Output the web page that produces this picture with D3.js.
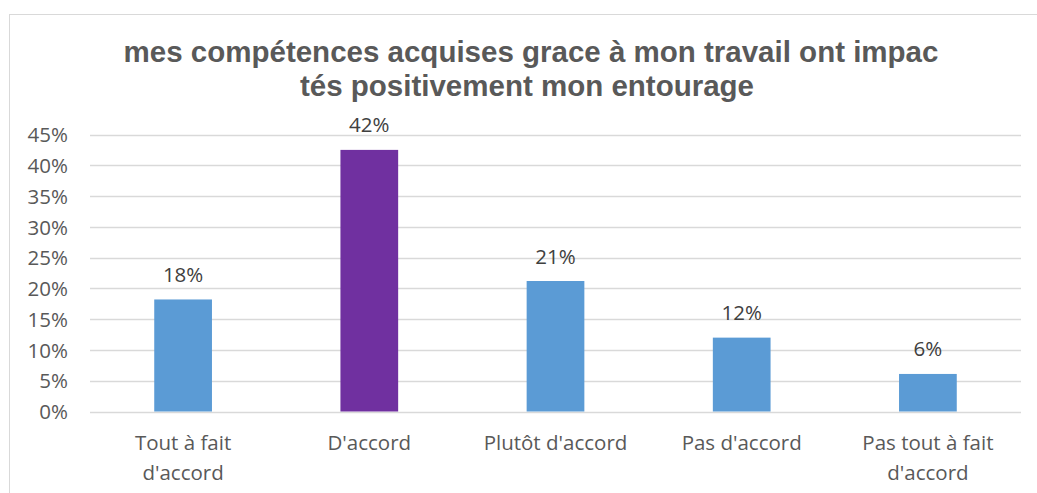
<!DOCTYPE html>
<html><head><meta charset="utf-8">
<script src="https://cdn.jsdelivr.net/npm/d3@7"></script>
<style>body{margin:0;background:#fff}svg{display:block}</style>
</head><body>
<svg id="c" width="1037" height="493"></svg>
<script>
const categories = [["Tout à fait","d'accord"],["D'accord"],["Plutôt d'accord"],["Pas d'accord"],["Pas tout à fait","d'accord"]];
const values = [0.182, 0.425, 0.212, 0.12, 0.061];
const labels = ["18%","42%","21%","12%","6%"];
const barColors = ["#5B9BD5","#7030A0","#5B9BD5","#5B9BD5","#5B9BD5"];
const yTicks = [0,0.05,0.1,0.15,0.2,0.25,0.3,0.35,0.4,0.45];
const titleLines = ["mes compétences acquises grace à mon travail ont impac","tés positivement mon entourage"];

const svg = d3.select("#c");
svg.append("rect").attr("x",9.5).attr("y",14.5).attr("width",1040).attr("height",500)
  .attr("fill","#fff").attr("stroke","#d9d9d9").attr("stroke-width",1);

const x = d3.scaleBand().domain(d3.range(categories.length)).range([90,1021]).paddingInner(0.69).paddingOuter(0.345);
const y = d3.scaleLinear().domain([0,0.45]).range([411.5,134.5]);
const font = "'Open Sans', sans-serif";

svg.append("g").selectAll("line").data(yTicks).join("line")
  .attr("x1",90).attr("x2",1021).attr("y1",d=>Math.round(y(d))+0.5).attr("y2",d=>Math.round(y(d))+0.5)
  .attr("stroke","#d9d9d9").attr("stroke-width",1.3);

svg.append("g")
  .call(d3.axisLeft(y).tickValues(yTicks).tickSize(0).tickFormat(d3.format(".0%")))
  .call(g=>g.select(".domain").remove())
  .call(g=>g.selectAll("text").attr("x",68).attr("dy","0.35em").attr("fill","#595959")
    .style("font-family",font).style("font-size","20.5px"));

svg.append("g").selectAll("rect").data(values).join("rect")
  .attr("x",(d,i)=>x(i)).attr("width",x.bandwidth())
  .attr("y",d=>y(d)).attr("height",d=>y(0)-y(d)).attr("fill",(d,i)=>barColors[i]);

svg.append("g").selectAll("text").data(values).join("text")
  .attr("x",(d,i)=>x(i)+x.bandwidth()/2).attr("y",d=>y(d)-17.5)
  .attr("text-anchor","middle").attr("fill","#404040")
  .style("font-family",font).style("font-size","20.5px")
  .text((d,i)=>labels[i]);

const cat = svg.append("g").selectAll("text").data(categories).join("text")
  .attr("x",(d,i)=>x(i)+x.bandwidth()/2).attr("y",450)
  .attr("text-anchor","middle").attr("fill","#595959")
  .style("font-family",font).style("font-size","20.5px");
cat.each(function(d){
  const t=d3.select(this);
  d.forEach((s,k)=>t.append("tspan").attr("x",t.attr("x")).attr("dy",k?30:0).text(s));
});

svg.append("g").selectAll("text").data(titleLines).join("text")
  .attr("x",(d,i)=>i?527:531).attr("y",(d,i)=>62+i*34)
  .attr("text-anchor","middle").attr("fill","#595959")
  .style("font-family","'Liberation Sans', Arial, sans-serif").style("font-weight","bold").style("font-size","29.5px")
  .text(d=>d);
</script>
</body></html>
